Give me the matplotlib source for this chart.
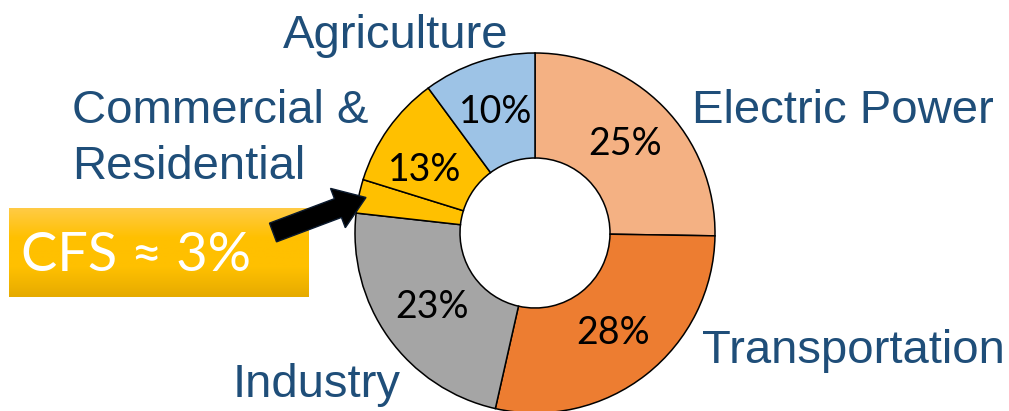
"""
Donut chart of emissions by sector, with the CFS slice called out.
"""

import numpy as np
import matplotlib
matplotlib.use("Agg")
import matplotlib.pyplot as plt
from matplotlib.colors import LinearSegmentedColormap
from matplotlib.patches import FancyArrow

# data
sectors = ["Electric Power", "Transportation", "Industry", "CFS",
           "Commercial & Residential", "Agriculture"]
shares = [25, 28, 23, 3, 10, 10]
colors = ["#F4B183", "#ED7D31", "#A5A5A5", "#FFC000", "#FFC000", "#9DC3E6"]
# percent labels: CFS is part of the commercial & residential 13%
pct_groups = [[0], [1], [2], [3, 4], [5]]
callout_text = "CFS \u2248 3%"

W, H = 1009, 411
CX, CY = 535, 411 - 233
R_OUT, R_IN = 180, 75
BLUE = "#1F4E79"

fig = plt.figure(figsize=(W / 100, H / 100), dpi=100)
ax = fig.add_axes([0, 0, 1, 1])

wedges, _ = ax.pie(shares, radius=R_OUT, center=(CX, CY), startangle=90,
                   counterclock=False, colors=colors,
                   wedgeprops=dict(width=R_OUT - R_IN, edgecolor="black",
                                   linewidth=1.1))
ax.set_xlim(0, W)
ax.set_ylim(0, H)
ax.set_aspect("equal")
ax.axis("off")

# percent labels inside the ring
r_lab = 127
for grp in pct_groups:
    t1 = min(wedges[i].theta1 for i in grp)
    t2 = max(wedges[i].theta2 for i in grp)
    mid = np.deg2rad((t1 + t2) / 2)
    val = sum(shares[i] for i in grp)
    ax.text(CX + r_lab * np.cos(mid), CY + r_lab * np.sin(mid), f"{val}%",
            ha="center", va="center", fontsize=27, family=["Lato", "DejaVu Sans"],
            color="black", zorder=5)

# sector names
lab_kw = dict(fontsize=34, family=["Liberation Sans", "DejaVu Sans"],
              color=BLUE, ha="left", va="baseline")
ax.text(283, H - 48, "Agriculture", **lab_kw)
ax.text(72, H - 123, "Commercial &", **lab_kw)
ax.text(72, H - 179, "Residential", **lab_kw)
ax.text(692, H - 123, "Electric Power", **lab_kw)
ax.text(702, H - 363, "Transportation", **lab_kw)
ax.text(233, H - 397, "Industry", **lab_kw)

# CFS callout box with vertical gradient
cmap = LinearSegmentedColormap.from_list(
    "box", ["#E6AB00", "#FFC000", "#FFC000", "#FFCB45"])
grad = np.linspace(0, 1, 100).reshape(-1, 1)
ax.imshow(grad, extent=[9, 309, H - 297, H - 209], cmap=cmap, origin="lower",
          aspect="auto", zorder=3)
ax.text(21, H - 271, callout_text, fontsize=39, family=["Lato", "DejaVu Sans"],
        color="white", ha="left", va="baseline", zorder=4)

# arrow pointing to the CFS slice
ax.add_patch(FancyArrow(273, H - 232.5, 93, 35, width=20, head_width=42,
                        head_length=30, length_includes_head=True,
                        facecolor="black", edgecolor="#0B1A2E", zorder=6))

ax.set_xlim(0, W)
ax.set_ylim(0, H)
fig.savefig("out.png", dpi=100)
